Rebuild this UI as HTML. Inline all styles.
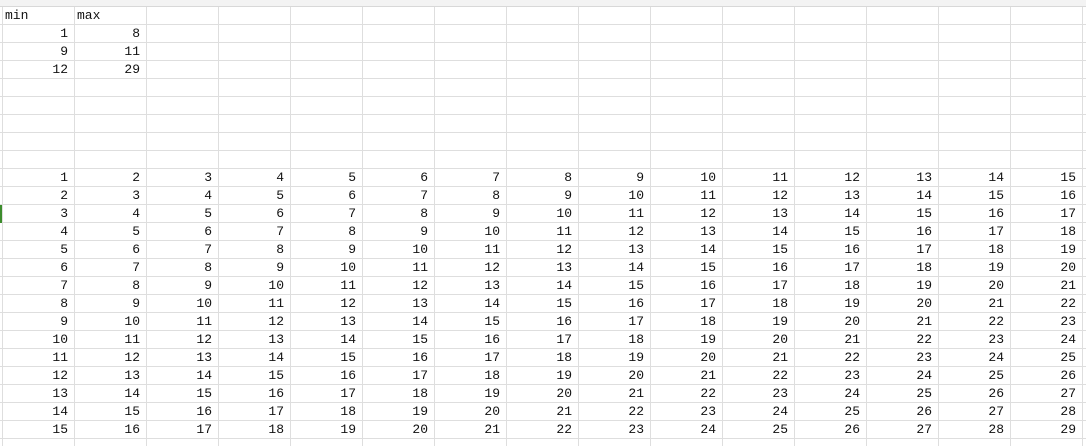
<!DOCTYPE html>
<html><head><meta charset="utf-8">
<style>
html,body{margin:0;padding:0;background:#fff;width:1086px;height:446px;overflow:hidden}
#sheet{position:absolute;left:0;top:0;width:1086px;height:446px}
.cell{position:absolute;height:18px;line-height:20px;font-family:"Liberation Mono","DejaVu Sans Mono",monospace;font-size:13px;color:#111;box-sizing:border-box;white-space:nowrap}
.num{text-align:right;padding-right:6px}
.txt{text-align:left;padding-left:3px}
</style></head>
<body>
<div id="sheet">
<svg id="grid" width="1086" height="446" style="position:absolute;left:0;top:0"></svg>
<div style="position:absolute;left:0;top:0;width:1086px;height:6px;background:#f3f3f3;border-bottom:1px solid #d8d8d8"></div>
<div style="position:absolute;left:0;top:205px;width:2px;height:18px;background:#3c8c2c"></div>
</div>
<script>
const headers = ["min","max"];
const minVals = [1,9,12];
const maxVals = [8,11,29];
const tableStart = [1,2,3,4,5,6,7,8,9,10,11,12,13,14,15];
const tableCols = 15;
const X0=2, CW=72, Y0=6, RH=18;
const svg=document.getElementById('grid');
const sheet=document.getElementById('sheet');
let g='';
for(let i=0;i<=15;i++){const x=X0+i*CW+0.5;g+=`<line x1="${x}" y1="6" x2="${x}" y2="446" stroke="#dedede"/>`;}
for(let r=0;r<=24;r++){const y=Y0+r*RH+0.5;g+=`<line x1="0" y1="${y}" x2="1086" y2="${y}" stroke="#dedede"/>`;}
svg.innerHTML=g;
function cell(col,row,text,cls,name){
  const d=document.createElement('div');
  d.className='cell '+cls;
  d.style.left=(X0+col*CW)+'px';
  d.style.top=(Y0+row*RH)+'px';
  d.style.width=CW+'px';
  d.textContent=text;
  
  
  sheet.appendChild(d);
}
headers.forEach((h,i)=>cell(i,0,h,'txt','header-'+h));
minVals.forEach((v,i)=>cell(0,1+i,v,'num','min-value'));
maxVals.forEach((v,i)=>cell(1,1+i,v,'num','max-value'));
tableStart.forEach((s,r)=>{
  for(let c=0;c<tableCols;c++) cell(c,9+r,s+c,'num','table-cell');
});
</script>
</body></html>
